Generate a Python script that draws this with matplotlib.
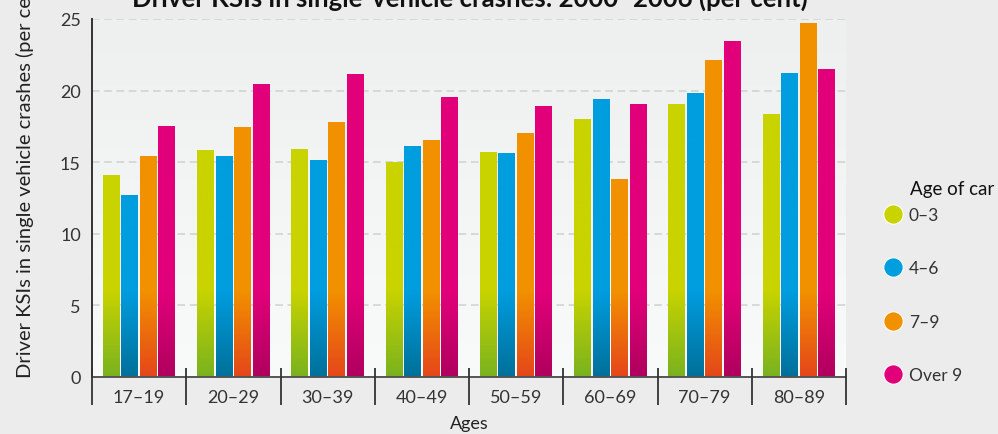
#!/usr/bin/env python3
"""Driver KSIs in single-vehicle crashes by driver age and age of car."""
import matplotlib
matplotlib.use("Agg")
import matplotlib.pyplot as plt
import matplotlib.transforms as mtransforms
from matplotlib.colors import to_rgb
from matplotlib.lines import Line2D
import numpy as np

ages = ["17–19", "20–29", "30–39", "40–49", "50–59", "60–69", "70–79", "80–89"]
car_ages = ["0–3", "4–6", "7–9", "Over 9"]
car_0_3 = [14.1, 15.8, 15.9, 15.0, 15.7, 18.0, 19.0, 18.3]
car_4_6 = [12.7, 15.4, 15.1, 16.1, 15.6, 19.4, 19.8, 21.2]
car_7_9 = [15.4, 17.4, 17.8, 16.5, 17.0, 13.8, 22.1, 24.7]
car_over_9 = [17.5, 20.4, 21.1, 19.5, 18.9, 19.0, 23.4, 21.5]
series = [car_0_3, car_4_6, car_7_9, car_over_9]

top_colors = ["#c8d300", "#009ddf", "#f29100", "#e2007a"]
bottom_colors = ["#79b21f", "#00709a", "#e5461a", "#b0005e"]

plt.rcParams["font.family"] = ["Lato", "DejaVu Sans"]

fig = plt.figure(figsize=(9.98, 4.35), dpi=100)
fig.patch.set_facecolor("#ebeceb")
ax = fig.add_axes([92 / 998, 1 - 378 / 435, (846 - 92) / 998, (378 - 20) / 435])

# soft vertical gradient behind the plot (darker at the top)
c_top = np.array(to_rgb("#eef0ef"))
c_bot = np.array(to_rgb("#f9fafa"))
bg = (c_top + np.linspace(0, 1, 64)[:, None] * (c_bot - c_top))[:, None, :]
ax.imshow(bg, extent=(0, 1, 0, 1), transform=ax.transAxes, aspect="auto", zorder=0)
ax.set_facecolor("#f5f6f6")

slot = 0.196
gap = 0.016
fade = 6.0  # data units over which bars darken towards the base
x = np.arange(len(ages))
for i, vals in enumerate(series):
    top = np.array(to_rgb(top_colors[i]))
    bot = np.array(to_rgb(bottom_colors[i]))
    for xi, v in zip(x, vals):
        cx = xi + (i - 1.5) * slot
        yy = np.linspace(v, 0, 200)
        t = np.clip(yy / fade, 0, 1)[:, None]
        img = (bot * (1 - t) + top * t)[:, None, :]
        ax.imshow(img, extent=(cx - slot / 2 + gap / 2, cx + slot / 2 - gap / 2, 0, v),
                  aspect="auto", interpolation="bilinear", zorder=2)

ax.set_xlim(-0.5, len(ages) - 0.5)
ax.set_ylim(0, 25)
ax.set_yticks([0, 5, 10, 15, 20, 25])
ax.yaxis.grid(True, color="#cfd0d0", linestyle=(0, (5, 3)), linewidth=1.1)
ax.set_axisbelow(True)
ax.set_xticks(x)
ax.set_xticklabels(ages)
ax.tick_params(axis="x", length=0, pad=9, labelsize=13, labelcolor="#333333")
ax.tick_params(axis="y", length=0, pad=8, labelsize=13, labelcolor="#333333")

for side in ["top", "right"]:
    ax.spines[side].set_visible(False)
ax.spines["left"].set_color("#333333")
ax.spines["left"].set_linewidth(1.4)
ax.spines["bottom"].set_color("#555555")
ax.spines["bottom"].set_linewidth(1.4)

# group separators crossing the baseline
trans = mtransforms.blended_transform_factory(ax.transData, ax.transAxes)
ax.vlines(np.arange(len(ages) + 1) - 0.5, -0.078, 0.025, transform=trans,
          color="#333333", linewidth=1.3, clip_on=False, zorder=3)

ax.set_xlabel("Ages", fontsize=13, color="#222222", labelpad=7)
fig.text(25 / 998, 1 - 378 / 435, "Driver KSIs in single vehicle crashes (per cent)",
         rotation=90, ha="center", va="bottom", fontsize=14.5, color="#222222")
fig.text(470 / 998, 1 - 7 / 435, "Driver KSIs in single-vehicle crashes: 2000–2006 (per cent)",
         ha="center", va="baseline", fontsize=18.5, fontweight="bold", color="#111111")

handles = [Line2D([], [], linestyle="none", marker="o", markersize=14,
                  markerfacecolor=c, markeredgecolor="white", markeredgewidth=0.8)
           for c in top_colors]
fig.text(910 / 998, 1 - 190 / 435, "Age of car", ha="left", va="center",
         fontsize=13.5, color="#111111")
fig.legend(handles, car_ages, loc="upper left", bbox_to_anchor=(876 / 998, 1 - 201 / 435),
           frameon=False, fontsize=12.5, labelspacing=2.15, handletextpad=0.3,
           handlelength=1.2, borderaxespad=0, labelcolor="#333333")

fig.savefig("out.png", dpi=100, facecolor=fig.get_facecolor())
